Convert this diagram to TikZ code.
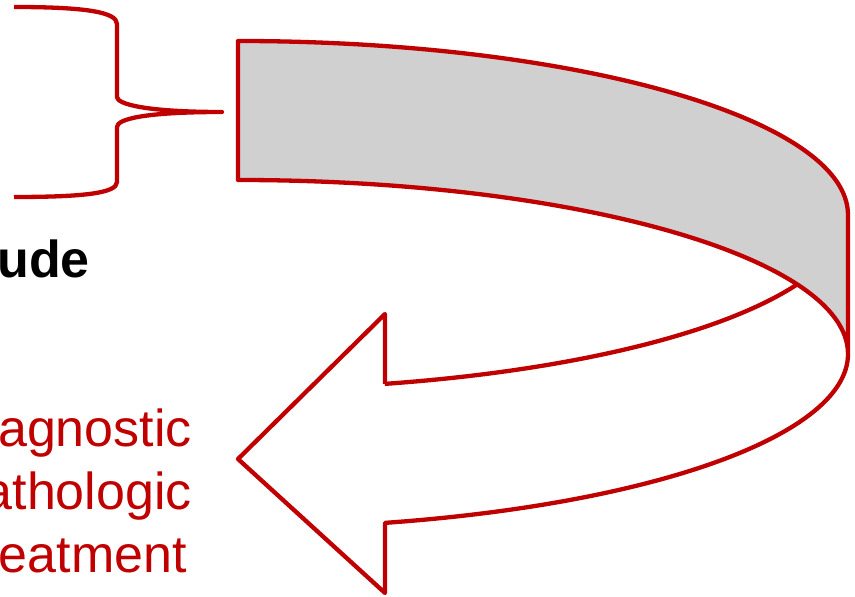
\documentclass[tikz,border=0pt]{standalone}
\usepackage{fontspec}
\setmainfont{Liberation Sans}
\usetikzlibrary{positioning}
\definecolor{loopred}{RGB}{192,0,0}
\definecolor{loopgray}{RGB}{208,208,208}

\begin{document}
\begin{tikzpicture}[
  x=1pt,y=1pt,
  redline/.style={draw=loopred,line width=4.3pt,line join=round},
  bigtext/.style={font=\fontsize{52}{63}\selectfont,inner sep=0pt,anchor=base east},
  redtext/.style={bigtext,text=loopred}
]
\useasboundingbox (0,0) rectangle (855,597);
\clip (0,0) rectangle (855,597);
\coordinate (tip) at (222,485);
\coordinate (cross) at (797,312.5);
\draw[redline] (14,590) .. controls (85,590) and (117,585) .. (117,573)
  -- (117,500) .. controls (117,493) and (145,485) .. (tip)
  .. controls (145,485) and (117,478) .. (117,470)
  -- (117,415) .. controls (117,404) and (85,400) .. (14,400);
\draw[redline,fill=loopgray] (238,556) arc[start angle=90,end angle=0,x radius=610pt,y radius=174pt]
  -- (848,243) arc[start angle=0,end angle=90,x radius=610pt,y radius=174pt] -- cycle;
\draw[redline] (848,243) arc[start angle=0,end angle=-76.05,x radius=610pt,y radius=174pt]
  coordinate (tail1) -- (385,4) -- (238,138) -- (385,283) -- (385,213) coordinate (tail2);
\draw[redline] (cross) arc[start angle=-23.54,end angle=-76.05,x radius=610pt,y radius=174pt];
\node[bigtext,font=\fontsize{52}{63}\selectfont\bfseries] (head) at (90,319) {ude};
\node[redtext] (line1) at (192,150) {agnostic};
\node[redtext] (line2) at (192,87) {athologic};
\node[redtext] (line3) at (187,24) {eatment};
\end{tikzpicture}
\end{document}
